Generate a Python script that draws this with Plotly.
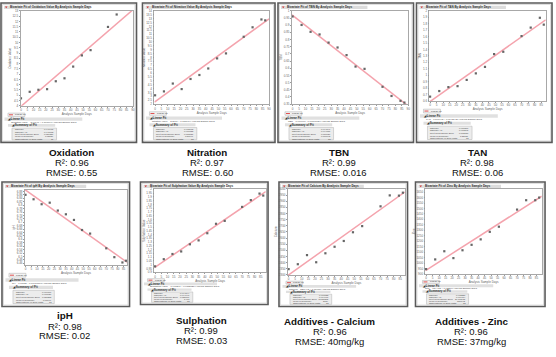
import numpy as np
import plotly.graph_objects as go

# ---------------- data ----------------
days = [0, 7, 14, 21, 28, 35, 42, 49, 56, 70, 77, 84, 87]
days_oxidation = [0, 7, 14, 21, 28, 35, 42, 49, 56, 70, 77]

oxidation = [4.71, 5.33, 5.52, 5.58, 6.33, 6.61, 7.72, 8.78, 9.28, 11.48, 12.66]
nitration = [3.14, 3.64, 4.65, 3.94, 5.24, 5.75, 6.59, 7.89, 8.53, 10.67, 11.89, 12.90, 12.78]
tbn = [0.961, 0.902, 0.854, 0.836, 0.779, 0.745, 0.692, 0.612, 0.596, 0.471, 0.407, 0.373, 0.361]
tan = [0.666, 0.753, 0.814, 0.829, 0.926, 1.028, 1.129, 1.328, 1.364, 1.608, 1.740, 1.893, 1.786]
iph = [6.861, 6.835, 6.806, 6.815, 6.769, 6.747, 6.714, 6.655, 6.634, 6.548, 6.496, 6.465, 6.475]
sulphation = [0.978, 1.073, 1.142, 1.176, 1.271, 1.323, 1.418, 1.543, 1.582, 1.767, 1.858, 1.944, 1.918]
calcium = [2347, 2387, 2461, 2403, 2476, 2529, 2576, 2647, 2697, 2858, 2947, 2945, 2969]
zinc = [944, 1033, 1108, 1045, 1117, 1167, 1217, 1286, 1333, 1490, 1576, 1576, 1600]

panel_titles = ["Oxidation", "Nitration", "TBN", "TAN", "ipH", "Sulphation",
                "Additives - Calcium", "Additives - Zinc"]
r2_labels = ["0.96", "0.97", "0.99", "0.98", "0.98", "0.99", "0.96", "0.96"]
rmse_labels = ["0.55", "0.60", "0.016", "0.06", "0.02", "0.03", "40mg/kg", "37mg/kg"]
y_names = ["Oxidation Value", "Nitration Value", "TBN", "TAN", "ipH",
           "Sulphation Value", "Calcium", "Zinc"]
x_name = "Analysis Sample Days"
summary_rows = ["RSquare", "RSquare Adj", "Root Mean Square Error",
                "Mean of Response", "Observations (or Sum Wgts)"]

series_x = [days_oxidation, days, days, days, days, days, days, days]
series_y = [oxidation, nitration, tbn, tan, iph, sulphation, calcium, zinc]

# ---------------- layout geometry (pixels) ----------------
W, H = 556, 357
panels = [
    dict(frame=(1, 1, 137, 142), plot=(20.7, 9, 133.3, 105), xr=(-0.3, 90), yr=(4, 13), text_y=152, tx=72),
    dict(frame=(143, 1, 276, 142), plot=(155, 9, 270, 103.3), xr=(-0.5, 90), yr=(2, 14), text_y=152, tx=208),
    dict(frame=(279, 1, 415, 142), plot=(293, 9, 409.7, 103.3), xr=(-0.5, 90), yr=(0.35, 1.0), text_y=152, tx=340),
    dict(frame=(418, 1, 554, 142), plot=(431, 9, 547.7, 100), xr=(-0.5, 88.5), yr=(0.6, 2.0), text_y=152, tx=479),
    dict(frame=(2, 182, 130, 308), plot=(25, 190, 127.5, 266), xr=(-0.5, 88), yr=(6.45, 6.89), text_y=317.5, tx=65),
    dict(frame=(141, 182, 269, 306), plot=(155, 189.5, 266.7, 273.3), xr=(-0.5, 89), yr=(0.9, 2.0), text_y=322, tx=202),
    dict(frame=(280, 182, 409, 308), plot=(289, 189, 406.3, 276), xr=(-0.5, 88.5), yr=(2300, 3000), text_y=323, tx=331),
    dict(frame=(417, 182, 547, 308), plot=(427, 189, 543.7, 275), xr=(-0.5, 89), yr=(900, 1680), text_y=323, tx=473),
]


def fx(x):
    return x / W


def fy(y):
    return 1 - y / H


fig = go.Figure()
shapes = []
annotations = []
layout_axes = {}
TXT = "Liberation Sans, Arial, sans-serif"
LINE_COLOR = "#f4a3ad"

for i, p in enumerate(panels):
    n = i + 1
    xs = np.array(series_x[i], dtype=float)
    ys = np.array(series_y[i], dtype=float)
    slope, intercept = np.polyfit(xs, ys, 1)
    pred = intercept + slope * xs
    resid = ys - pred
    rsq = 1 - np.sum(resid ** 2) / np.sum((ys - ys.mean()) ** 2)
    rsq_adj = 1 - (1 - rsq) * (len(xs) - 1) / (len(xs) - 2)
    rmse = np.sqrt(np.sum(resid ** 2) / (len(xs) - 2))

    xref = "x" if n == 1 else f"x{n}"
    yref = "y" if n == 1 else f"y{n}"
    line_x = np.array([p["xr"][0], p["xr"][1]])
    fig.add_trace(go.Scatter(x=line_x, y=intercept + slope * line_x, mode="lines",
                             line=dict(color=LINE_COLOR, width=1.5), xaxis=xref, yaxis=yref,
                             showlegend=False, hoverinfo="skip"))
    fig.add_trace(go.Scatter(x=xs, y=ys, mode="markers", cliponaxis=False,
                             marker=dict(symbol="square", size=2.2, color="#666666"),
                             xaxis=xref, yaxis=yref, showlegend=False))

    fx0, fy0, fx1, fy1 = p["frame"]
    px0, py0, px1, py1 = p["plot"]
    axis_common = dict(showgrid=False, zeroline=False, showline=True, mirror=True,
                       linecolor="#a8a8a8", linewidth=0.6, ticks="outside", ticklen=1,
                       tickcolor="#999", tickfont=dict(size=3, color="#666", family=TXT))
    layout_axes["xaxis" if n == 1 else f"xaxis{n}"] = dict(
        domain=[fx(px0), fx(px1)], range=list(p["xr"]), anchor=yref, dtick=5,
        title=dict(text=x_name, font=dict(size=3, color="#666", family=TXT), standoff=1),
        **axis_common)
    layout_axes["yaxis" if n == 1 else f"yaxis{n}"] = dict(
        domain=[fy(py1), fy(py0)], range=list(p["yr"]), anchor=xref, nticks=26,
        title=dict(text=y_names[i], font=dict(size=3, color="#666", family=TXT), standoff=1),
        **axis_common)

    # panel frame
    shapes.append(dict(type="rect", xref="paper", yref="paper", x0=fx(fx0), x1=fx(fx1),
                       y0=fy(fy1), y1=fy(fy0), line=dict(color="#5a5a5a", width=1.6),
                       fillcolor="rgba(0,0,0,0)", layer="below"))
    shapes.append(dict(type="rect", xref="paper", yref="paper", x0=fx(fx0 + 1.5), x1=fx(fx1 - 1.5),
                       y0=fy(fy1 - 1.5), y1=fy(fy0 + 1.5), line=dict(color="#c8c8c8", width=0.6),
                       fillcolor="white", layer="below"))
    # header bar
    hx1 = fx0 + 0.66 * (fx1 - fx0)
    shapes.append(dict(type="rect", xref="paper", yref="paper", x0=fx(fx0 + 3), x1=fx(hx1),
                       y0=fy(fy0 + 6.0), y1=fy(fy0 + 2.8), line=dict(width=0),
                       fillcolor="#dcdcdc", layer="below"))
    shapes.append(dict(type="path", xref="paper", yref="paper",
                       path=f"M {fx(fx0 + 4)} {fy(fy0 + 3.5)} L {fx(fx0 + 6.5)} {fy(fy0 + 3.5)} L {fx(fx0 + 5.25)} {fy(fy0 + 5.4)} Z",
                       fillcolor="#d03030", line=dict(width=0)))
    annotations.append(dict(xref="paper", yref="paper", x=fx(fx0 + 7.5), y=fy(fy0 + 4.4),
                            xanchor="left", yanchor="middle", showarrow=False,
                            text=f"<b>Bivariate Fit of {y_names[i]} By {x_name}</b>",
                            font=dict(size=3, color="#333", family=TXT)))

    # report region below the plot
    pb, fb = py1, fy1
    span = fb - pb

    def ry(f):
        return pb + f * span

    # legend box
    shapes.append(dict(type="rect", xref="paper", yref="paper", x0=fx(fx0 + 7), x1=fx(fx0 + 24),
                       y0=fy(ry(0.29)), y1=fy(ry(0.2)), line=dict(color="#aaa", width=0.5),
                       fillcolor="#f4f4f4"))
    shapes.append(dict(type="line", xref="paper", yref="paper", x0=fx(fx0 + 8), x1=fx(fx0 + 12),
                       y0=fy(ry(0.245)), y1=fy(ry(0.245)), line=dict(color="#e05050", width=1)))
    annotations.append(dict(xref="paper", yref="paper", x=fx(fx0 + 12.5), y=fy(ry(0.245)),
                            xanchor="left", yanchor="middle", showarrow=False, text="Linear Fit",
                            font=dict(size=2.5, color="#333", family=TXT)))
    # Linear Fit outline bar
    shapes.append(dict(type="rect", xref="paper", yref="paper", x0=fx(fx0 + 3.5), x1=fx(fx0 + 0.6 * (fx1 - fx0)),
                       y0=fy(ry(0.405)), y1=fy(ry(0.32)), line=dict(width=0), fillcolor="#e0e0e0"))
    annotations.append(dict(xref="paper", yref="paper", x=fx(fx0 + 4.5), y=fy(ry(0.362)),
                            xanchor="left", yanchor="middle", showarrow=False, text="<b>◢ Linear Fit</b>",
                            font=dict(size=3, color="#333", family=TXT)))
    sign = "+" if slope >= 0 else "-"
    annotations.append(dict(xref="paper", yref="paper", x=fx(fx0 + 8), y=fy(ry(0.45)),
                            xanchor="left", yanchor="middle", showarrow=False,
                            text=f"{y_names[i]} = {intercept:.6g} {sign} {abs(slope):.6g}*{x_name}",
                            font=dict(size=2.4, color="#444", family=TXT)))
    # Summary of Fit bar
    shapes.append(dict(type="rect", xref="paper", yref="paper", x0=fx(fx0 + 7), x1=fx(fx0 + 0.4 * (fx1 - fx0)),
                       y0=fy(ry(0.575)), y1=fy(ry(0.5)), line=dict(width=0), fillcolor="#e0e0e0"))
    annotations.append(dict(xref="paper", yref="paper", x=fx(fx0 + 8), y=fy(ry(0.537)),
                            xanchor="left", yanchor="middle", showarrow=False, text="<b>◢ Summary of Fit</b>",
                            font=dict(size=3, color="#333", family=TXT)))
    # table
    tx0, tx1 = fx0 + 11, fx0 + 0.41 * (fx1 - fx0)
    t0, t1 = ry(0.61), ry(0.93)
    shapes.append(dict(type="rect", xref="paper", yref="paper", x0=fx(tx0), x1=fx(tx1),
                       y0=fy(t1), y1=fy(t0), line=dict(color="#b0b0b0", width=0.5), fillcolor="#ececec"))
    vals = [f"{rsq:.6f}", f"{rsq_adj:.6f}", f"{rmse:.6f}", f"{ys.mean():.6g}", f"{len(xs)}"]
    for k, (lab, v) in enumerate(zip(summary_rows, vals)):
        yy = t0 + (k + 0.5) * (t1 - t0) / 5
        annotations.append(dict(xref="paper", yref="paper", x=fx(tx0 + 0.7), y=fy(yy),
                                xanchor="left", yanchor="middle", showarrow=False, text=lab,
                                font=dict(size=2.2, color="#444", family=TXT)))
        annotations.append(dict(xref="paper", yref="paper", x=fx(tx1 - 0.7), y=fy(yy),
                                xanchor="right", yanchor="middle", showarrow=False, text=v,
                                font=dict(size=2.2, color="#444", family=TXT)))

    # caption under the panel
    ty = p["text_y"]
    annotations.append(dict(xref="paper", yref="paper", x=fx(p["tx"]), y=fy(ty),
                            xanchor="center", yanchor="middle", showarrow=False,
                            text=f"<b>{panel_titles[i]}</b>",
                            font=dict(size=9.8, color="#111", family=TXT)))
    annotations.append(dict(xref="paper", yref="paper", x=fx(p["tx"]), y=fy(ty + 10.2),
                            xanchor="center", yanchor="middle", showarrow=False,
                            text=f"R²: {r2_labels[i]}",
                            font=dict(size=9.5, color="#111", family=TXT)))
    annotations.append(dict(xref="paper", yref="paper", x=fx(p["tx"]), y=fy(ty + 20.2),
                            xanchor="center", yanchor="middle", showarrow=False,
                            text=f"RMSE: {rmse_labels[i]}",
                            font=dict(size=9.5, color="#111", family=TXT)))

fig.update_layout(width=W, height=H, margin=dict(l=0, r=0, t=0, b=0),
                  paper_bgcolor="white", plot_bgcolor="white", showlegend=False,
                  shapes=shapes, annotations=annotations, **layout_axes)

fig.write_html("out.html", config={"displayModeBar": False},
               post_script="document.body.style.margin='0';document.body.style.padding='0';")
